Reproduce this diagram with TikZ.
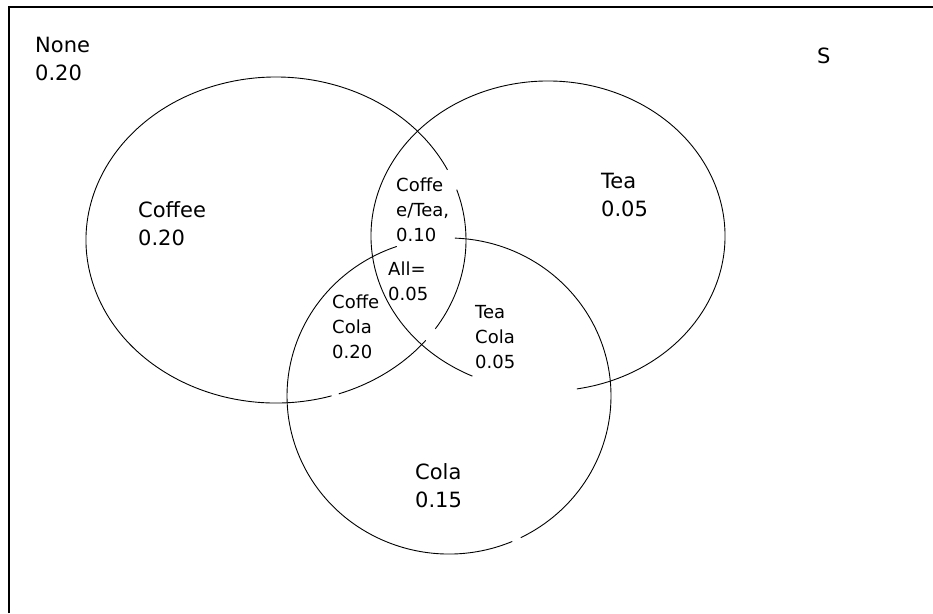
\documentclass[tikz,border=0pt]{standalone}
\usepackage{fontspec}
\setmainfont{DejaVu Sans}

\begin{document}
\begin{tikzpicture}[x=1pt,y=-1pt,
  big/.style={anchor=north west,inner sep=0pt,align=left,font=\fontsize{21}{28}\selectfont},
  small/.style={anchor=north west,inner sep=0pt,align=left,font=\fontsize{18}{25}\selectfont},
  ring/.style={line width=0.9pt}]
\useasboundingbox (0,0) rectangle (933,613);
\draw[line width=1.6pt] (9,613) -- (9,7) -- (933,7);

% coffee
\draw[ring,shift={(276,240)}] (-18:190 and 163) arc[start angle=-18,end angle=33,x radius=190,y radius=163];
\draw[ring,shift={(276,240)}] (38:190 and 163) arc[start angle=38,end angle=70.7,x radius=190,y radius=163];
\draw[ring,shift={(276,240)}] (73:190 and 163) arc[start angle=73,end angle=334.5,x radius=190,y radius=163];
% tea
\draw[ring,shift={(548,236)}] (115.3:177 and 155) arc[start angle=115.3,end angle=440.6,x radius=177,y radius=155];
% cola
\draw[ring,shift={(449,396)}] (-87.9:162 and 158) arc[start angle=-87.9,end angle=63.7,x radius=162,y radius=158];
\draw[ring,shift={(449,396)}] (67:162 and 158) arc[start angle=67,end angle=251.2,x radius=162,y radius=158];

\node[big] (none) at (35,37) {None\\0.20};
\node[big] (s) at (817,48) {S};
\node[big] (coffee) at (138,201) {Coffee\\0.20};
\node[big] (tea) at (601,173) {Tea\\0.05};
\node[big] (cola) at (415,463) {Cola\\0.15};

\node[small] (coffeetea) at (396,178) {Coffe\\e/Tea,\\0.10};
\node[small] (all) at (388,262) {All=\\0.05};
\node[small] (coffeecola) at (332,295) {Coffe\\Cola\\0.20};
\node[small] (teacola) at (475,305) {Tea\\Cola\\0.05};
\end{tikzpicture}
\end{document}
